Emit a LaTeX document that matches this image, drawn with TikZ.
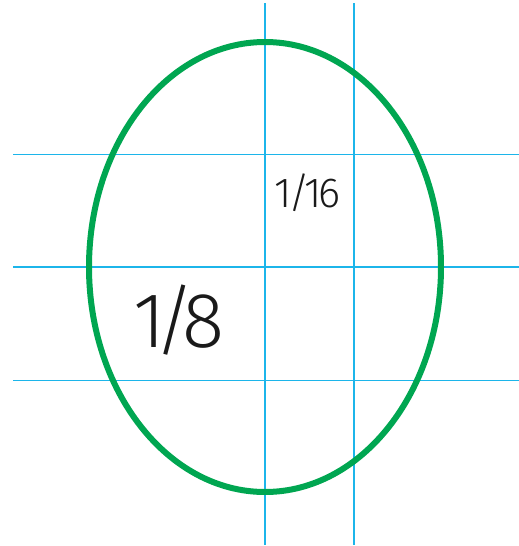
\documentclass[tikz,border=0pt]{standalone}
\usepackage{fontspec}
\setmainfont{Fira Sans Light}
\usepackage{tikz}
\definecolor{Grid}{HTML}{1CB5EA}
\definecolor{Egg}{HTML}{00A651}
\definecolor{Ink}{HTML}{1A1A1A}

\begin{document}
\begin{tikzpicture}[x=1pt,y=-1pt]
  \useasboundingbox (0,0) rectangle (519,546);
  \foreach \y in {154.5,267,380.5} {
    \draw[Grid,line width=1.5] (13,\y) -- (519,\y);
  }
  \foreach \x in {265,354} {
    \draw[Grid,line width=1.5] (\x,3) -- (\x,545);
  }
  \draw[Egg,line width=6] (265,267) ellipse [x radius=176, y radius=225];
  \node[font=\fontsize{42}{42}\selectfont\addfontfeature{LetterSpace=-8},Ink] (sixteenth) at (307,193) {1/16};
  \node[font=\fontsize{78}{78}\selectfont\addfontfeature{LetterSpace=-14},Ink] (eighth) at (179,320) {1/8};
\end{tikzpicture}
\end{document}
